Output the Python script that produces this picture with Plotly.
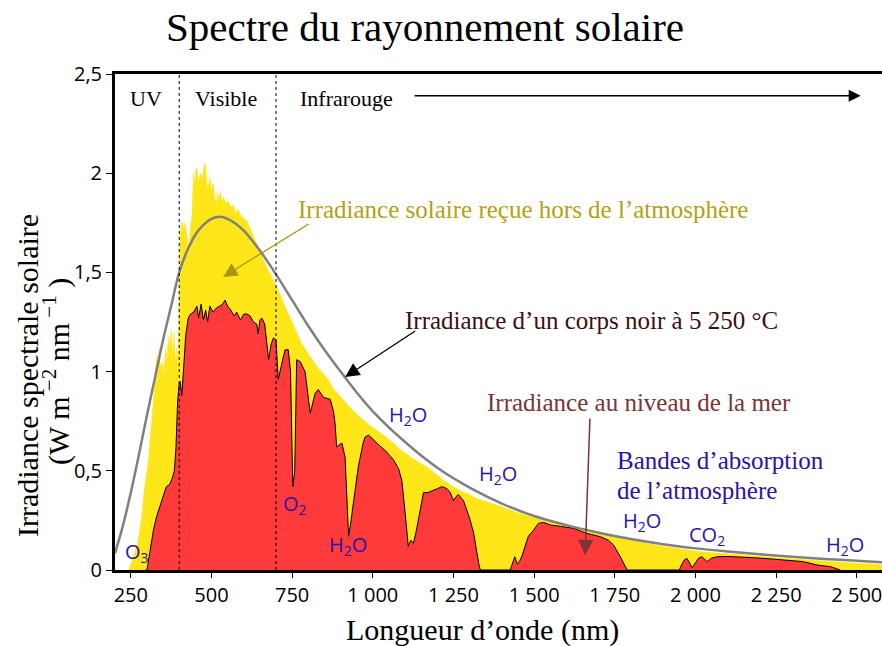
import plotly.graph_objects as go

# ---------------- data ----------------
# Extraterrestrial solar irradiance (yellow), W m-2 nm-1
am0_nm = [243, 250, 258, 265, 273, 280, 284, 290, 294, 300, 304, 310, 315, 320, 325, 330, 333, 338, 342,
          348, 352, 358, 362, 366, 370, 375, 380, 384, 388, 393, 397, 400, 403, 408, 413, 418, 424, 430,
          435, 440, 444, 448, 452, 456, 460, 466, 472, 477, 481, 486, 490, 495, 500, 505, 510, 515, 518,
          522, 527, 532, 537, 545, 552, 560, 568, 575, 582, 590, 600, 610, 620, 630, 640, 651, 660, 670,
          680, 692, 700, 713, 730, 754, 780, 806, 830, 857, 880, 909, 935, 961, 990, 1012, 1040, 1064,
          1090, 1116, 1140, 1167, 1190, 1219, 1245, 1271, 1300, 1322, 1360, 1395, 1450, 1500, 1529, 1550,
          1600, 1650, 1700, 1750, 1800, 1850, 1900, 1950, 2000, 2050, 2100, 2150, 2200, 2250, 2300, 2350,
          2400, 2450, 2500, 2578]
am0_val = [0.0, 0.03, 0.067, 0.10, 0.15, 0.22, 0.27, 0.38, 0.44, 0.50, 0.55, 0.655, 0.756, 0.86, 0.95, 1.08,
           0.98, 1.12, 1.02, 1.05, 0.98, 1.12, 1.05, 1.18, 1.12, 1.21, 1.10, 1.20, 1.05, 1.12, 1.02, 1.45,
           1.70, 1.76, 1.72, 1.75, 1.68, 1.62, 1.73, 1.80, 2.00, 1.95, 2.03, 2.01, 1.96, 2.00, 1.98, 2.04,
           2.05, 1.94, 1.93, 1.98, 1.92, 1.95, 1.88, 1.84, 1.90, 1.87, 1.91, 1.86, 1.88, 1.85, 1.86, 1.83,
           1.84, 1.80, 1.82, 1.79, 1.77, 1.76, 1.72, 1.68, 1.64, 1.60, 1.56, 1.53, 1.50, 1.46, 1.43, 1.39,
           1.32, 1.23, 1.14, 1.075, 1.02, 0.97, 0.91, 0.857, 0.81, 0.77, 0.73, 0.706, 0.67, 0.64, 0.60,
           0.571, 0.545, 0.52, 0.49, 0.454, 0.425, 0.40, 0.38, 0.36, 0.34, 0.32, 0.29, 0.265, 0.248, 0.243,
           0.224, 0.206, 0.189, 0.171, 0.152, 0.135, 0.120, 0.107, 0.096, 0.088, 0.081, 0.075, 0.069,
           0.063, 0.057, 0.051, 0.045, 0.039, 0.034, 0.028]

# Sea-level irradiance (red)
sea_nm = [295, 300, 310, 320, 330, 340, 350, 360, 370, 378, 385, 390, 395, 400, 403, 408, 415, 420, 428,
          435, 445, 455, 460, 468, 475, 482, 488, 495, 505, 515, 525, 535, 542, 550, 560, 570, 578, 590,
          600, 610, 620, 630, 640, 645, 650, 656, 665, 677, 685, 692, 700, 707, 715, 728, 738, 745, 752,
          758, 764, 775, 790, 800, 806, 815, 821, 831, 847, 868, 878, 883, 888, 895, 904, 914, 920, 925,
          930, 935, 945, 955, 961, 970, 976, 986, 1000, 1012, 1040, 1064, 1080, 1090, 1100, 1110, 1118,
          1126, 1135, 1141, 1150, 1157, 1170, 1188, 1200, 1214, 1230, 1240, 1250, 1258, 1265, 1281, 1300,
          1312, 1320, 1328, 1333, 1426, 1432, 1440, 1448, 1455, 1462, 1468, 1482, 1498, 1513, 1529, 1550,
          1581, 1622, 1663, 1705, 1730, 1746, 1767, 1788, 1950, 1955, 1965, 1973, 1982, 1989, 1997, 2010,
          2020, 2030, 2036, 2050, 2067, 2100, 2129, 2180, 2232, 2280, 2335, 2377, 2418, 2449]
sea_val = [0.0, 0.0, 0.10, 0.20, 0.27, 0.32, 0.37, 0.42, 0.43, 0.46, 0.50, 0.62, 0.85, 0.94, 0.95, 0.88,
           1.05, 1.18, 1.27, 1.29, 1.30, 1.33, 1.27, 1.34, 1.26, 1.31, 1.25, 1.33, 1.30, 1.32, 1.33, 1.34,
           1.36, 1.33, 1.31, 1.28, 1.30, 1.26, 1.29, 1.29, 1.28, 1.25, 1.24, 1.19, 1.26, 1.27, 1.24, 1.06,
           1.14, 1.17, 1.16, 0.96, 1.02, 1.11, 1.11, 1.00, 0.42, 0.50, 1.06, 1.05, 1.00, 0.88, 0.79, 0.85,
           0.89, 0.91, 0.87, 0.86, 0.80, 0.74, 0.62, 0.63, 0.64, 0.57, 0.35, 0.17, 0.22, 0.29, 0.40, 0.52,
           0.57, 0.64, 0.67, 0.68, 0.66, 0.64, 0.60, 0.555, 0.51, 0.45, 0.29, 0.12, 0.15, 0.135, 0.20,
           0.25, 0.33, 0.39, 0.39, 0.40, 0.41, 0.42, 0.41, 0.39, 0.35, 0.37, 0.38, 0.35, 0.26, 0.19, 0.10,
           0.035, 0.0, 0.0, 0.03, 0.067, 0.03, 0.045, 0.07, 0.10, 0.17, 0.20, 0.235, 0.24, 0.227, 0.22,
           0.21, 0.185, 0.168, 0.15, 0.126, 0.067, 0.0, 0.0, 0.02, 0.05, 0.059, 0.035, 0.01, 0.03, 0.06,
           0.067, 0.048, 0.042, 0.06, 0.067, 0.068, 0.067, 0.062, 0.056, 0.050, 0.042, 0.025, 0.017, 0.0]

# Black body at 5 250 °C (grey curve)
bb_nm = [201, 225, 250, 275, 300, 325, 350, 375, 400, 425, 450, 475, 500, 525, 550, 575, 600, 650, 700,
         750, 800, 850, 900, 950, 1000, 1100, 1200, 1300, 1400, 1500, 1600, 1700, 1800, 1900, 2000, 2100,
         2200, 2300, 2400, 2500, 2578]
bb_val = [0.085, 0.22, 0.39, 0.58, 0.78, 0.97, 1.16, 1.33, 1.50, 1.61, 1.69, 1.74, 1.77, 1.78, 1.77, 1.745,
          1.71, 1.61, 1.49, 1.36, 1.23, 1.11, 1.00, 0.895, 0.80, 0.645, 0.515, 0.415, 0.335, 0.272, 0.226,
          0.188, 0.156, 0.130, 0.109, 0.093, 0.079, 0.067, 0.056, 0.046, 0.039]

band_edges = [400, 700]
x_tick_vals = [250, 500, 750, 1000, 1250, 1500, 1750, 2000, 2250, 2500]
x_tick_text = ["250", "500", "750", "1 000", "1 250", "1 500", "1 750", "2 000", "2 250", "2 500"]
y_tick_vals = [0, 0.5, 1, 1.5, 2, 2.5]
y_tick_text = ["0", "0,5", "1", "1,5", "2", "2,5"]

# molecule labels: (text, x, y)
mol_labels = [("O<sub>3</sub>", 270, 0.09), ("O<sub>2</sub>", 759, 0.33), ("H<sub>2</sub>O", 924, 0.126),
              ("H<sub>2</sub>O", 1110, 0.78), ("H<sub>2</sub>O", 1389, 0.48), ("H<sub>2</sub>O", 1835, 0.242),
              ("CO<sub>2</sub>", 2036, 0.176), ("H<sub>2</sub>O", 2464, 0.126)]

SERIF = "Liberation Serif"
SANS = "Open Sans"
BLUE = "#2B12A8"

W, H = 882, 646
L, R, T, B = 115, 0, 74, 76
PW, PH = W - L - R, H - T - B


def px(xp):
    return (xp - L) / PW


def py(yp):
    return (H - B - yp) / PH


fig = go.Figure()
fig.add_trace(go.Scatter(x=am0_nm, y=am0_val, mode="lines", fill="tozeroy",
                         fillcolor="#FFE619", line=dict(color="#FFE619", width=0.5),
                         hoverinfo="skip", showlegend=False))
fig.add_trace(go.Scatter(x=sea_nm, y=sea_val, mode="lines", fill="tozeroy",
                         fillcolor="#FE3A3A", line=dict(color="black", width=1),
                         hoverinfo="skip", showlegend=False))
fig.add_trace(go.Scatter(x=bb_nm, y=bb_val, mode="lines", line=dict(color="#808080", width=2.5, shape="spline"),
                         hoverinfo="skip", showlegend=False))

for e in band_edges:
    fig.add_shape(type="line", x0=e, x1=e, y0=0, y1=2.5, xref="x", yref="y",
                  line=dict(color="black", width=1, dash="dot"), layer="above")

ann = []
# region labels
for txt, xv in [("UV", 297), ("Visible", 545), ("Infrarouge", 917)]:
    ann.append(dict(x=xv, y=2.375, text=txt, showarrow=False, font=dict(family=SERIF, size=22, color="black")))
# infrared arrow
ann.append(dict(x=2512, y=2.39, ax=1125, ay=2.39, axref="x", ayref="y", text="", showarrow=True,
                arrowhead=2, arrowsize=1.6, arrowwidth=1.5, arrowcolor="black"))
# series labels
ann.append(dict(x=1466, y=1.815, text="Irradiance solaire reçue hors de l’atmosphère", showarrow=False,
                font=dict(family=SERIF, size=25, color="#B3A114")))
ann.append(dict(x=536, y=1.477, ax=806, ay=1.749, axref="x", ayref="y", text="", showarrow=True,
                arrowhead=2, arrowsize=2.2, arrowwidth=1.3, arrowcolor="#A8960F"))
ann.append(dict(x=1677, y=1.26, text="Irradiance d’un corps noir à 5 250 °C", showarrow=False,
                font=dict(family=SERIF, size=25, color="#3C1010")))
ann.append(dict(x=914, y=0.973, ax=1136, ay=1.21, axref="x", ayref="y", text="", showarrow=True,
                arrowhead=2, arrowsize=2.2, arrowwidth=1.3, arrowcolor="black"))
ann.append(dict(x=1825, y=0.842, text="Irradiance au niveau de la mer", showarrow=False,
                font=dict(family=SERIF, size=25, color="#7B3535")))
ann.append(dict(x=1658, y=0.0756, ax=1673, ay=0.771, axref="x", ayref="y", text="", showarrow=True,
                arrowhead=2, arrowsize=2.0, arrowwidth=1.5, arrowcolor="#7B3535"))
ann.append(dict(x=1751, y=0.554, xanchor="left", text="Bandes d’absorption", showarrow=False,
                font=dict(family=SERIF, size=25, color=BLUE)))
ann.append(dict(x=1751, y=0.403, xanchor="left", text="de l’atmosphère", showarrow=False,
                font=dict(family=SERIF, size=25, color=BLUE)))
for txt, xv, yv in mol_labels:
    ann.append(dict(x=xv, y=yv, text=txt, showarrow=False, font=dict(family=SANS, size=20, color=BLUE)))

# axis titles
ann.append(dict(xref="paper", yref="paper", x=px(482), y=py(630), xanchor="center", yanchor="middle",
                text="Longueur d’onde (nm)", showarrow=False,
                font=dict(family=SERIF, size=30, color="black")))
ann.append(dict(xref="paper", yref="paper", x=px(27), y=py(376), xanchor="center", yanchor="middle",
                text="Irradiance spectrale solaire", textangle=-90,
                showarrow=False, font=dict(family=SERIF, size=30, color="black")))
ann.append(dict(xref="paper", yref="paper", x=px(56), y=py(372), xanchor="center", yanchor="middle",
                text="(W m<sup> −2</sup> nm<sup> −1</sup> )", textangle=-90,
                showarrow=False, font=dict(family=SERIF, size=30, color="black")))

fig.update_layout(
    width=W, height=H,
    margin=dict(l=L, r=R, t=T, b=B, autoexpand=False),
    paper_bgcolor="white", plot_bgcolor="white",
    title=dict(text="Spectre du rayonnement solaire", x=425 / 882, xanchor="center", y=1 - 27 / 646,
               yanchor="middle", font=dict(family=SERIF, size=41, color="black")),
    annotations=ann,
    xaxis=dict(range=[201, 2578], tickvals=x_tick_vals, ticktext=x_tick_text, ticks="outside",
               ticklen=5, tickwidth=1, tickcolor="black", showline=True, linecolor="black", linewidth=3,
               mirror=True, showgrid=False, zeroline=False, automargin=False, ticklabeloverflow="allow",
               tickfont=dict(family=SANS, size=20, color="black")),
    yaxis=dict(range=[0, 2.5], tickvals=y_tick_vals, ticktext=y_tick_text, ticks="outside",
               ticklen=6, tickwidth=1, tickcolor="black", showline=True, linecolor="black", linewidth=3,
               showgrid=False, zeroline=False, automargin=False,
               tickfont=dict(family=SANS, size=20, color="black")),
)

fig.write_html("out.html", config={"displayModeBar": False},
               post_script="document.body.style.margin='0px';")
